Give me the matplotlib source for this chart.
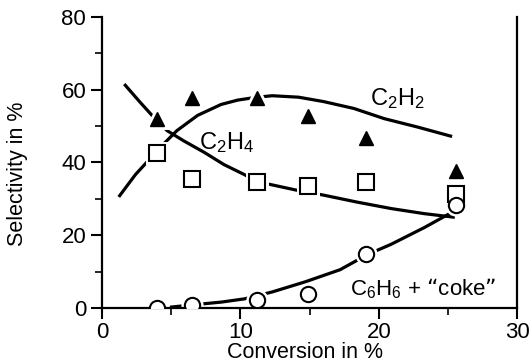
import matplotlib
matplotlib.use('Agg')
import matplotlib.pyplot as plt

# measured points
conv = [4.0, 6.5, 11.2, 14.9, 19.1, 25.6]
c2h2 = [52.0, 57.6, 57.6, 52.7, 46.7, 37.5]
c2h4 = [42.5, 35.5, 34.5, 33.6, 34.5, 31.3]
c6h6 = [0.0, 0.9, 2.2, 3.9, 14.9, 28.4]

# hand drawn trend curves
c2h2_cx = [1.2, 2.4, 4.3, 5.4, 6.9, 8.6, 9.8, 11.2, 12.3, 14.2, 16.0, 18.2, 20.4, 22.8, 25.3]
c2h2_cy = [30.5, 36.6, 44.5, 48.7, 52.9, 55.9, 57.1, 57.9, 58.3, 57.9, 56.7, 54.8, 52.0, 49.7, 47.1]
c2h4_cx = [1.6, 2.7, 3.7, 4.7, 5.9, 7.4, 8.8, 10.3, 11.2, 12.3, 14.0, 16.0, 18.4, 20.9, 23.3, 25.5]
c2h4_cy = [61.5, 56.7, 52.5, 48.7, 45.9, 42.7, 39.4, 36.6, 34.7, 33.8, 32.4, 31.0, 29.1, 27.3, 25.9, 24.9]
c6h6_cx = [4.9, 6.4, 8.6, 10.3, 12.3, 14.7, 17.2, 19.2, 20.9, 23.3, 25.3]
c6h6_cy = [0.2, 0.8, 1.6, 2.5, 4.4, 7.2, 10.5, 14.7, 17.5, 22.1, 26.3]

plt.rcParams['font.family'] = ['Liberation Sans', 'DejaVu Sans']
plt.rcParams['mathtext.default'] = 'regular'

fig = plt.figure(figsize=(5.32, 3.64), dpi=100)
ax = fig.add_axes([0.192, 0.154, 0.78, 0.8])

lw = 2.3
ax.plot(c2h2_cx, c2h2_cy, color='black', lw=lw, solid_capstyle='butt', zorder=1)
ax.plot(c2h4_cx, c2h4_cy, color='black', lw=lw, solid_capstyle='butt', zorder=1)
ax.plot(c6h6_cx, c6h6_cy, color='black', lw=lw, solid_capstyle='butt', zorder=1)

# white halo so the curves break around the symbols
for y, m, s in [(c2h4, 's', 11), (c6h6, 'o', 11), (c2h2, '^', 10)]:
	ax.plot(conv, y, ls='none', marker=m, ms=s, mfc='white', mec='white', mew=5, zorder=2)

ax.plot(conv, c2h2, ls='none', marker='^', ms=10, mfc='black', mec='black', zorder=4)
ax.plot(conv, c2h4, ls='none', marker='s', ms=11, mfc='white', mec='black', mew=1.5, zorder=3)
ax.plot(conv, c6h6, ls='none', marker='o', ms=11, mfc='white', mec='black', mew=1.5, zorder=3)

ax.text(19.4, 57.5, 'C$_2$H$_2$', fontsize=17, va='center', ha='left')
ax.text(7.0, 45.5, 'C$_2$H$_4$', fontsize=17, va='center', ha='left')
ax.text(17.9, 5.3, 'C$_6$H$_6$ + \u201ccoke\u201d', fontsize=16, va='center', ha='left')

ax.set_xlim(0, 30)
ax.set_ylim(0, 80)
ax.set_xticks([0, 10, 20, 30])
ax.set_xticks([5, 15, 25], minor=True)
ax.set_yticks([0, 20, 40, 60, 80])
ax.set_yticks([10, 30, 50, 70], minor=True)
ax.tick_params(which='major', length=8, width=1.5, labelsize=16, direction='out')
ax.tick_params(axis='x', which='major', pad=2)
ax.tick_params(which='minor', length=5, width=1.2, direction='out')
ax.spines['top'].set_visible(False)
for s in ['left', 'right', 'bottom']:
	ax.spines[s].set_linewidth(1.6)

ax.set_xlabel('Conversion in %', fontsize=15.5)
ax.xaxis.set_label_coords(0.49, -0.118)
ax.set_ylabel('Selectivity in %', fontsize=15.5)
ax.yaxis.set_label_coords(-0.178, 0.46)

fig.savefig('out.png', dpi=100)
